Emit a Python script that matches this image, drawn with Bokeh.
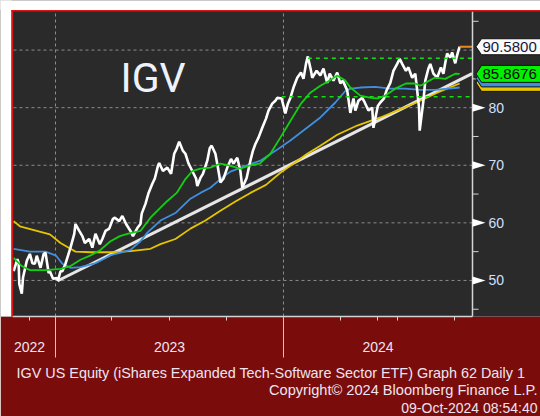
import pandas as pd
from bokeh.plotting import figure
from bokeh.models import Range1d, FixedTicker, BoxAnnotation, Label
from bokeh.core.properties import value
from bokeh.embed import file_html
from bokeh.resources import INLINE

# ---------------- data ----------------
price_dates = [
    "2022-10-26", "2022-11-01", "2022-11-03", "2022-11-04", "2022-11-08", "2022-11-10",
    "2022-11-16", "2022-11-21", "2022-11-25", "2022-11-29", "2022-12-02", "2022-12-08",
    "2022-12-13", "2022-12-16", "2022-12-21", "2022-12-23", "2022-12-28", "2023-01-03",
    "2023-01-05", "2023-01-09", "2023-01-12", "2023-01-17", "2023-01-25", "2023-01-31",
    "2023-02-02", "2023-02-08", "2023-02-13", "2023-02-17", "2023-02-24", "2023-03-01",
    "2023-03-06", "2023-03-13", "2023-03-17", "2023-03-22", "2023-03-28", "2023-04-03",
    "2023-04-06", "2023-04-13", "2023-04-18", "2023-04-24", "2023-04-28", "2023-05-01",
    "2023-05-05", "2023-05-12", "2023-05-17", "2023-05-19", "2023-05-25", "2023-05-30",
    "2023-06-05", "2023-06-09", "2023-06-14", "2023-06-16", "2023-06-22", "2023-06-29",
    "2023-07-05", "2023-07-10", "2023-07-14", "2023-07-18", "2023-07-24", "2023-07-28",
    "2023-08-02", "2023-08-08", "2023-08-14", "2023-08-16", "2023-08-21", "2023-08-25",
    "2023-09-01", "2023-09-05", "2023-09-08", "2023-09-14", "2023-09-18", "2023-09-22",
    "2023-09-27", "2023-10-03", "2023-10-09", "2023-10-13", "2023-10-19", "2023-10-24",
    "2023-10-27", "2023-11-03", "2023-11-09", "2023-11-13", "2023-11-17", "2023-11-22",
    "2023-11-28", "2023-12-04", "2023-12-08", "2023-12-14", "2023-12-19", "2023-12-22",
    "2023-12-29", "2024-01-04", "2024-01-08", "2024-01-12", "2024-01-17", "2024-01-23",
    "2024-01-29", "2024-02-02", "2024-02-06", "2024-02-09", "2024-02-14", "2024-02-16",
    "2024-02-23", "2024-02-29", "2024-03-05", "2024-03-11", "2024-03-15", "2024-03-21",
    "2024-03-27", "2024-04-01", "2024-04-05", "2024-04-12", "2024-04-17", "2024-04-22",
    "2024-04-25", "2024-04-30", "2024-05-06", "2024-05-10", "2024-05-16", "2024-05-22",
    "2024-05-24", "2024-05-31", "2024-06-04", "2024-06-10", "2024-06-14", "2024-06-20",
    "2024-06-25", "2024-07-01", "2024-07-05", "2024-07-09", "2024-07-15", "2024-07-19",
    "2024-07-25", "2024-07-30", "2024-08-02", "2024-08-05", "2024-08-06", "2024-08-12",
    "2024-08-15", "2024-08-20", "2024-08-23", "2024-08-28", "2024-09-03", "2024-09-09",
    "2024-09-13", "2024-09-16", "2024-09-19", "2024-09-24", "2024-09-27", "2024-10-02",
    "2024-10-04", "2024-10-07", "2024-10-09",
]
price_vals = [
    51.6, 53.7, 53.0, 49.4, 47.7, 50.5,
    53.4, 54.6, 53.0, 52.9, 54.3, 52.2,
    54.6, 54.8, 51.3, 51.6, 50.3, 50.4,
    50.0, 51.6, 51.6, 52.9, 55.7, 58.1,
    59.8, 58.6, 57.7, 56.5, 57.2, 55.7,
    58.1, 56.3, 57.2, 58.6, 59.0, 60.7,
    60.9, 60.3, 61.2, 59.8, 59.1, 58.6,
    57.7, 59.1, 59.8, 61.6, 63.3, 65.2,
    66.8, 67.7, 69.9, 70.4, 69.0, 69.6,
    68.5, 72.0, 72.9, 74.1, 72.5, 72.0,
    70.3, 69.0, 67.7, 66.4, 67.8, 68.5,
    70.8, 73.0, 73.4, 72.0, 69.6, 67.0,
    67.7, 69.6, 71.1, 70.3, 71.3, 69.0,
    66.1, 67.8, 70.8, 72.5, 73.7, 74.8,
    76.5, 78.1, 79.5, 80.7, 81.2, 81.7,
    81.6, 79.0, 80.7, 81.7, 83.5, 85.2,
    86.1, 85.0, 87.6, 88.9, 86.4, 85.2,
    86.4, 85.6, 86.8, 84.3, 85.9, 84.7,
    86.1, 84.2, 84.7, 83.0, 79.1, 81.6,
    79.5, 81.2, 81.7, 80.9, 79.5, 80.0,
    76.5, 80.3, 80.9, 81.6, 83.0, 84.3,
    86.4, 87.6, 88.5, 87.6, 86.4, 87.0,
    85.2, 85.9, 83.0, 80.0, 76.0, 81.2,
    84.7, 86.8, 87.6, 85.9, 85.2, 87.0,
    85.9, 87.8, 89.4, 88.7, 89.6, 87.7,
    88.7, 89.9, 90.58,
]

ma50_dates = [
    "2022-10-26", "2022-11-08", "2022-11-21", "2022-12-16", "2023-01-09", "2023-01-25",
    "2023-02-10", "2023-02-27", "2023-03-14", "2023-03-30", "2023-04-14", "2023-04-26",
    "2023-05-17", "2023-06-02", "2023-06-29", "2023-07-14", "2023-07-28", "2023-08-08",
    "2023-08-21", "2023-09-06", "2023-09-22", "2023-10-05", "2023-10-24", "2023-11-09",
    "2023-11-24", "2023-12-11", "2023-12-27", "2024-01-12", "2024-01-29", "2024-02-13",
    "2024-02-29", "2024-03-15", "2024-03-27", "2024-04-09", "2024-04-17", "2024-05-03",
    "2024-05-20", "2024-05-31", "2024-06-12", "2024-06-28", "2024-07-15", "2024-07-30",
    "2024-08-07", "2024-08-15", "2024-08-30", "2024-09-16", "2024-10-02", "2024-10-09",
]
ma50_vals = [
    53.9, 52.5, 51.8, 51.8, 52.0, 52.5,
    53.6, 54.4, 55.3, 56.8, 57.7, 58.1,
    58.6, 60.9, 63.8, 65.2, 67.6, 69.0,
    69.4, 69.6, 70.3, 70.0, 69.4, 70.0,
    70.3, 72.0, 74.8, 77.7, 80.7, 82.6,
    83.8, 84.7, 85.6, 84.7, 83.5, 82.1,
    81.7, 81.6, 82.1, 83.3, 84.2, 84.2,
    83.8, 84.3, 85.2, 85.0, 85.9, 85.8676,
]

ma100_dates = [
    "2022-10-26", "2022-11-21", "2022-12-16", "2023-01-02", "2023-01-12", "2023-01-25",
    "2023-02-10", "2023-03-06", "2023-03-22", "2023-03-30", "2023-04-14", "2023-05-01",
    "2023-05-17", "2023-05-28", "2023-06-18", "2023-07-12", "2023-08-05", "2023-08-21",
    "2023-09-06", "2023-09-22", "2023-10-08", "2023-11-01", "2023-11-25", "2023-12-19",
    "2024-01-12", "2024-02-05", "2024-02-29", "2024-03-24", "2024-04-09", "2024-04-17",
    "2024-05-03", "2024-05-27", "2024-06-20", "2024-07-14", "2024-08-07", "2024-08-31",
    "2024-10-09",
]
ma100_vals = [
    55.5, 55.0, 55.0, 54.3, 52.9, 52.2,
    52.3, 53.0, 53.9, 54.4, 54.8, 55.3,
    56.8, 58.3, 60.4, 61.7, 64.2, 65.2,
    66.1, 67.6, 68.9, 69.9, 70.8, 72.5,
    74.3, 76.3, 78.3, 80.9, 82.9, 83.3,
    83.5, 83.6, 83.3, 83.3, 83.1, 83.1,
    83.5,
]

ma200_dates = [
    "2022-10-26", "2022-11-05", "2022-11-29", "2022-12-23", "2023-01-09", "2023-01-25",
    "2023-02-02", "2023-02-27", "2023-03-30", "2023-05-01", "2023-06-02", "2023-06-18",
    "2023-07-12", "2023-08-05", "2023-08-29", "2023-09-22", "2023-10-16", "2023-11-09",
    "2023-12-04", "2023-12-27", "2024-01-12", "2024-02-08", "2024-02-29", "2024-03-27",
    "2024-04-28", "2024-06-04", "2024-07-01", "2024-08-07", "2024-09-03", "2024-10-09",
]
ma200_vals = [
    60.3, 59.4, 58.7, 58.0, 56.5, 55.5,
    55.0, 54.9, 54.9, 55.1, 55.5, 56.3,
    57.2, 59.0, 60.4, 62.1, 63.7, 65.2,
    66.6, 68.7, 69.9, 72.0, 73.4, 75.3,
    76.9, 78.3, 79.5, 81.2, 82.6, 84.2,
]

trend_dates = ["2023-01-04", "2024-10-29"]
trend_vals = [49.9, 85.9]

resist_dates = ["2024-02-09", "2024-10-29"]
resist_vals = [88.6, 88.6]
support_dates = ["2023-12-29", "2024-10-29"]
support_vals = [81.9, 81.9]

last_dates = ["2024-10-09", "2024-10-29"]
last_price = 90.58
last_ma50 = 85.8676

y_major = [50, 60, 70, 80, 90]
y_minor = [45, 55, 65, 75, 85, 95]
year_starts = ["2023-01-01", "2024-01-01"]
quarter_starts = ["2023-04-01", "2023-10-01", "2024-04-01", "2024-07-01", "2024-10-01"]
year_labels = ["2022", "2023", "2024"]

title_text = "IGV"
footer_1 = "IGV US Equity (iShares Expanded Tech-Software Sector ETF) Graph 62  Daily 1"
footer_2 = "Copyright\u00a9 2024 Bloomberg Finance L.P."
footer_3 = "09-Oct-2024 08:54:40"

# ---------------- geometry ----------------
W, H = 540, 416
CL, CR, CT, CB = 13, 472, 11, 316          # chart area (canvas px)
X_START = pd.Timestamp("2022-10-25 18:00")
X_END = pd.Timestamp("2024-10-29 14:00")
Y0, Y1 = 43.74, 96.70


def ms(t):
    return pd.Timestamp(t).value / 1e6


x0, x1 = ms(X_START), ms(X_END)
XPX = (x1 - x0) / (CR - CL)     # ms per px
UPX = (Y1 - Y0) / (CB - CT)     # value units per px


def cx(px):
    return x0 + (px - CL) * XPX


def cy(py):
    return Y1 - (py - CT) * UPX


BG = "#2a2a2a"
RED_BG = "#7a0c0c"
RED_LINE = "#d91414"
AXIS_C = "#d4d4d4"
GRID_C = "#8c8c8c"
LABEL_C = "#cfe0ff"
FOOT_C = "#efe4f0"
FONT = "Liberation Sans"

p = figure(width=W, height=H, x_axis_type="datetime", x_axis_location="below",
           y_axis_location=None,
           x_range=Range1d(cx(0), cx(W)), y_range=Range1d(cy(CB), cy(0)),
           output_backend="svg", toolbar_location=None,
           min_border_left=0, min_border_right=0, min_border_top=0,
           min_border_bottom=H - CB,
           background_fill_color=BG, border_fill_color=RED_BG)
p.outline_line_color = None
p.title.visible = False
p.grid.visible = False

# ---------------- grid (dotted, limited to the chart area) ----------------
gx = [ms(d) for d in year_starts]
p.segment(x0=gx, y0=[Y0] * len(gx), x1=gx, y1=[Y1] * len(gx),
          line_color=GRID_C, line_dash="3 3", line_width=1)
p.segment(x0=[x0] * len(y_major), y0=y_major, x1=[x1] * len(y_major), y1=y_major,
          line_color=GRID_C, line_dash="3 3", line_width=1)

# ---------------- series ----------------
p.line(pd.to_datetime(trend_dates), trend_vals, color="#e6e6e6", line_width=3)
p.line(pd.to_datetime(ma200_dates), ma200_vals, color="#e6c400", line_width=1.8)
p.line(pd.to_datetime(ma100_dates), ma100_vals, color="#3f8fe0", line_width=1.8)
p.line(pd.to_datetime(price_dates), price_vals, color="#ffffff", line_width=2.6)
p.line(pd.to_datetime(ma50_dates), ma50_vals, color="#12d012", line_width=1.8)
p.line(pd.to_datetime(resist_dates), resist_vals, color="#10e010", line_width=1.5,
       line_dash="4 4")
p.line(pd.to_datetime(support_dates), support_vals, color="#10e010", line_width=1.5,
       line_dash="4 4")
p.line(pd.to_datetime(last_dates), [last_price, last_price], color="#e88a20", line_width=2)

# ---------------- right value axis ----------------
p.segment(x0=[x1], y0=[Y0], x1=[x1], y1=[Y1], line_color=AXIS_C, line_width=1.5)
p.segment(x0=[x1] * len(y_minor), y0=y_minor, x1=[cx(CR + 6)] * len(y_minor), y1=y_minor,
          line_color=AXIS_C, line_width=1)
shown = y_major[:-1]     # the 90 label sits under the last-price tag
p.patches(xs=[[x1, x1, cx(CR + 13)] for _ in shown],
          ys=[[t + 4 * UPX, t - 4 * UPX, t] for t in shown],
          fill_color="#ffffff", line_color=None)
p.text(x=[cx(CR + 16)] * len(shown), y=shown, text=[str(t) for t in shown],
       text_font=value(FONT), text_font_size="14px", text_color=LABEL_C,
       text_align="left", text_baseline="middle")


# value tags (pentagons pointing at the axis)
def tag_shape(v, shift_px, half_px):
    yv = v - shift_px * UPX
    hp = half_px * UPX
    return ([cx(CR + 3.5), cx(CR + 9), cx(W + 5), cx(W + 5), cx(CR + 9)],
            [yv, yv + hp, yv + hp, yv - hp, yv - hp])


tags = [(last_ma50, 9, 8.5, "#e6c400"), (last_ma50, 4.5, 8.5, "#3f8fe0"),
        (last_ma50, 0, 8.5, "#00f000"), (last_price, 0, 8, "#fafafa")]
shapes = [tag_shape(v, s, h) for v, s, h, _ in tags]
p.patches(xs=[s[0] for s in shapes], ys=[s[1] for s in shapes],
          fill_color=[t[3] for t in tags], line_color="#111111", line_width=1)
p.text(x=[cx(CR + 10)] * 2, y=[last_price, last_ma50],
       text=[f"{last_price:.4f}", f"{last_ma50:.4f}"],
       text_font=value(FONT), text_font_size="15px", text_color=["#16163a", "#000000"],
       text_align="left", text_baseline="middle")

# ---------------- page edges (white margin + red rule) ----------------
for l, r, t, b, c in [
    (-5, 11, -5, CB + 5, "#ffffff"),
    (-5, W + 5, -5, 9.5, "#ffffff"),
    (11, 12.7, 9.5, CB + 5, RED_LINE),
    (11, W + 5, 9.5, 11, RED_LINE),
]:
    p.add_layout(BoxAnnotation(left=cx(l), right=cx(r), top=cy(t), bottom=cy(b),
                               fill_color=c, fill_alpha=1.0, line_color=None,
                               level="overlay"))

# title
p.add_layout(Label(x=cx(120), y=cy(77), text=title_text, text_align="left",
                   text_baseline="middle", text_font="Roboto", text_font_size="41px",
                   text_color="#eef2ff"))

# ---------------- time axis ----------------
ys_mid = [cx(CL + 16),
          (ms(year_starts[0]) + ms(year_starts[1])) / 2,
          (ms(year_starts[1]) + x1) / 2]
xa = p.xaxis[0]
q_ms = [ms(d) for d in quarter_starts]
xa.ticker = FixedTicker(ticks=sorted(q_ms + ys_mid), minor_ticks=gx)
xa.bounds = (cx(12), x1)
xa.axis_line_color = AXIS_C
xa.axis_line_width = 1.5
xa.major_tick_line_color = AXIS_C
xa.major_tick_out = 4
xa.major_tick_in = 0
xa.minor_tick_line_color = "#d8c4c4"
xa.minor_tick_out = 41
xa.minor_tick_in = 0
overrides = {q: "" for q in q_ms}
overrides.update({m: lab for m, lab in zip(ys_mid, year_labels)})
xa.major_label_overrides = overrides
xa.major_label_standoff = -16
xa.major_label_text_font = FONT
xa.major_label_text_font_size = "14px"
xa.major_label_text_color = FOOT_C

# footer
for txt, px, py, al, fs in [(footer_1, 16, 372, "left", "14.4px"),
                            (footer_2, 537, 389, "right", "14.6px"),
                            (footer_3, 537, 407, "right", "14px")]:
    p.add_layout(Label(x=cx(px), y=cy(py), text=txt, text_align=al, text_baseline="middle",
                       text_font=FONT, text_font_size=fs, text_color=FOOT_C), "below")

open("out.html", "w").write(file_html(p, INLINE))
